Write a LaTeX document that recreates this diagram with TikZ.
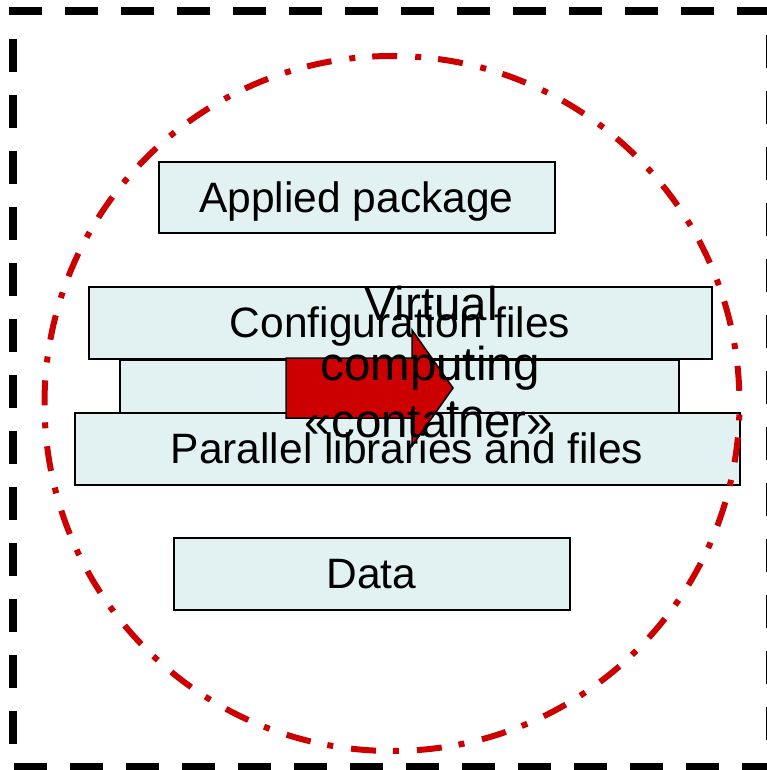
\documentclass[tikz,border=0pt]{standalone}
\usepackage{fontspec}
\setmainfont{Liberation Sans}
\definecolor{boxfill}{RGB}{226,242,242}
\definecolor{circred}{RGB}{204,0,0}
\tikzset{
  frameline/.style={line width=8pt, dash pattern=on 33pt off 23pt},
  layer/.style={draw=black, line width=2pt, fill=boxfill, inner sep=0pt,
    text height=38pt, text depth=8.9pt, font=\fontsize{42.5}{50}\selectfont, anchor=center},
  bigtext/.style={anchor=base, inner sep=0pt, font=\fontsize{47.5}{58}\selectfont},
  ring/.style={draw=circred, line width=6pt,
    dash pattern=on 25pt off 18pt on 6pt off 17pt, dash phase=32pt},
  bigarrow/.style={draw=black, line width=1.5pt, fill=circred}
}
\begin{document}
\begin{tikzpicture}[x=1pt,y=-1pt]
\useasboundingbox (0,0) rectangle (767,770);
% dashed frame
\draw[frameline] (9,11) -- (770,11);
\draw[frameline] (13,39) -- (13,767);
\draw[frameline] (770,35) -- (770,770);
\draw[frameline] (14,767) -- (770,767);
% middle layer (partly hidden)
\node[layer, minimum width=559pt, minimum height=53pt] (mid) at (399,386) {};
\node[bigtext] (g1) at (450,380) {u};
\node[bigtext] (g2) at (466,432) {te};
% layers
\node[layer, minimum width=396pt, minimum height=71pt] (app) at (356.5,197.5) {Applied package};
\node[layer, minimum width=623pt, minimum height=72pt] (conf) at (400,323) {Configuration files};
\node[layer, minimum width=665pt, minimum height=72pt] (par) at (407,448.5) {Parallel libraries and files};
\node[layer, minimum width=396pt, minimum height=72pt] (data) at (371.5,573.5) {Data};
% arrow
\draw[bigarrow] (286,358) -- (412,358) -- (412,330) -- (453,388) -- (412,446) -- (412,418) -- (286,418) -- cycle;
% circle
\draw[ring] (392,403.5) circle[radius=347.5];
% container text
\node[bigtext] (vt1) at (431,320) {Virtual};
\node[bigtext] (vt2) at (430,380) {computing};
\node[bigtext] (vt3) at (429,437) {«container»};
\end{tikzpicture}
\end{document}
